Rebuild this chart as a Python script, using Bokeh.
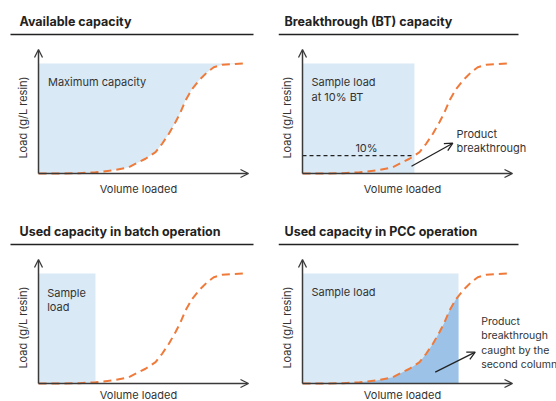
import numpy as np
from bokeh.plotting import figure
from bokeh.layouts import gridplot
from bokeh.models import Range1d, Arrow, OpenHead
from bokeh.core.properties import value
from bokeh.embed import file_html
from bokeh.resources import INLINE

# ---- data ----
volume = [0, 10, 20, 27.8, 36.0, 44.0, 52.2, 57.1, 60.3, 63.6, 66.8, 69.3,
          71.7, 75.0, 78.2, 82.3, 85.5, 89.6, 100]
load = [0, 0, 0.3, 1.2, 2.7, 5.7, 13.4, 19.4, 27.0, 36.1, 46.6, 55.7,
        66.4, 77.0, 84.5, 92.1, 96.6, 98.8, 100]
max_capacity = 100
bt_volume = 54.6      # sample load at 10% breakthrough
batch_volume = 27.8   # sample load in batch operation
pcc_volume = 76.1     # sample load in PCC operation

titles = ["Available capacity", "Breakthrough (BT) capacity",
          "Used capacity in batch operation", "Used capacity in PCC operation"]
x_label = "Volume loaded"
y_label = "Load (g/L resin)"

# ---- style ----
FONT = value("Inter")
TXT = "#333333"
DARK = "#222222"
ORANGE = "#ef7a3a"
LIGHT = "#d9eaf6"
MID = "#9cc3e7"
AXIS = "#3a3a3a"

SX, SY = 2.05, 1.1  # px per data unit

vol = np.array(volume, dtype=float)
ld = np.array(load, dtype=float)

origins = [(38, 173), (302, 173), (38, 383), (302, 383)]
boxes = [(0, 0, 278, 205), (278, 0, 556, 205), (0, 205, 278, 401), (278, 205, 556, 401)]
title_x = [19, 284, 19, 284]
underline = [(10, 253), (278, 518), (10, 253), (278, 518)]
xlab_dy = [15, 15, 11.5, 11.5]


def make_panel(i):
    ox, oy = origins[i]
    fx0, fy0, fx1, fy1 = boxes[i]
    X = lambda px: (px - ox) / SX
    Y = lambda py: (oy - py) / SY
    p = figure(width=fx1 - fx0, height=fy1 - fy0,
               x_range=Range1d(X(fx0), X(fx1)), y_range=Range1d(Y(fy1), Y(fy0)),
               output_backend="svg", toolbar_location=None, min_border=0,
               x_axis_location=None, y_axis_location=None)
    p.grid.visible = False
    p.outline_line_color = None
    # title + rule
    p.text(x=[X(title_x[i])], y=[Y(oy - 152)], text=[titles[i]], text_font=FONT,
           text_font_style="bold", text_font_size="12.5px", text_baseline="middle",
           text_color=DARK)
    p.segment(x0=[X(underline[i][0])], y0=[Y(oy - 139)], x1=[X(underline[i][1])],
              y1=[Y(oy - 139)], line_color=DARK, line_width=1.5)
    # axis labels
    p.text(x=[X(ox + 100)], y=[Y(oy + xlab_dy[i])], text=[x_label], text_font=FONT,
           text_font_size="11px", text_align="center", text_baseline="middle",
           text_color=TXT)
    p.text(x=[X(ox - 16)], y=[Y(oy - 56)], text=[y_label], text_font=FONT,
           text_font_size="11px", text_align="center", text_baseline="middle",
           angle=np.pi / 2, text_color=TXT)
    return p, X, Y, ox, oy


def finish(p, X, Y, ox, oy):
    p.line(vol, ld, line_color=ORANGE, line_width=2, line_dash="8 5")
    for (xs, ys, xe, ye) in [(0, 0, X(ox + 210), 0), (0, 0, 0, Y(oy - 124))]:
        p.add_layout(Arrow(x_start=xs, y_start=ys, x_end=xe, y_end=ye,
                           line_color=AXIS, line_width=1.5,
                           end=OpenHead(size=8, line_color=AXIS, line_width=1.3)))


def label(p, x, y, lines, X, Y, step=14.5, size="11px"):
    for k, t in enumerate(lines):
        p.text(x=[X(x)], y=[Y(y + k * step)], text=[t], text_font=FONT,
               text_font_size=size, text_baseline="middle", text_color=TXT)


# Panel 1: available capacity
p1, X, Y, ox, oy = make_panel(0)
p1.varea(x=vol, y1=ld, y2=max_capacity, fill_color=LIGHT)
label(p1, 47.5, 81, ["Maximum capacity"], X, Y)
finish(p1, X, Y, ox, oy)

# Panel 2: breakthrough capacity
p2, X, Y, ox, oy = make_panel(1)
p2.quad(left=[0], right=[bt_volume], bottom=[0], top=[max_capacity],
        fill_color=LIGHT, line_color=None)
bt_level = float(np.interp(bt_volume, vol, ld))
p2.segment(x0=[0], y0=[bt_level], x1=[bt_volume], y1=[bt_level],
           line_color=DARK, line_width=1.3, line_dash="4 3")
p2.text(x=[X(366)], y=[Y(147.5)], text=["10%"], text_font=FONT, text_font_size="11px",
        text_align="center", text_baseline="middle", text_color=TXT)
label(p2, 311, 81, ["Sample load", "at 10% BT"], X, Y, step=15.7)
label(p2, 456, 133.3, ["Product", "breakthrough"], X, Y, step=14)
p2.add_layout(Arrow(x_start=X(411), y_start=Y(165.7), x_end=X(452.3), y_end=Y(142.7),
                    line_color=DARK, line_width=1.3,
                    end=OpenHead(size=8, line_color=DARK, line_width=1.3)))
finish(p2, X, Y, ox, oy)

# Panel 3: batch operation
p3, X, Y, ox, oy = make_panel(2)
p3.quad(left=[0], right=[batch_volume], bottom=[0], top=[max_capacity],
        fill_color=LIGHT, line_color=None)
label(p3, 46.7, 292.3, ["Sample", "load"], X, Y, step=14.5)
finish(p3, X, Y, ox, oy)

# Panel 4: PCC operation
p4, X, Y, ox, oy = make_panel(3)
p4.quad(left=[0], right=[pcc_volume], bottom=[0], top=[max_capacity],
        fill_color=LIGHT, line_color=None)
mask = vol < pcc_volume
xv = np.append(vol[mask], pcc_volume)
yv = np.append(ld[mask], np.interp(pcc_volume, vol, ld))
p4.varea(x=xv, y1=0, y2=yv, fill_color=MID)
label(p4, 311, 291.7, ["Sample load"], X, Y)
label(p4, 480.7, 321, ["Product", "breakthrough", "caught by the", "second column"],
      X, Y, step=14.4, size="10.5px")
p4.add_layout(Arrow(x_start=X(434.7), y_start=Y(371.7), x_end=X(474.7), y_end=Y(351.7),
                    line_color=DARK, line_width=1.3,
                    end=OpenHead(size=8, line_color=DARK, line_width=1.3)))
finish(p4, X, Y, ox, oy)

grid = gridplot([[p1, p2], [p3, p4]], toolbar_location=None)

open("out.html", "w").write(file_html(grid, INLINE))
